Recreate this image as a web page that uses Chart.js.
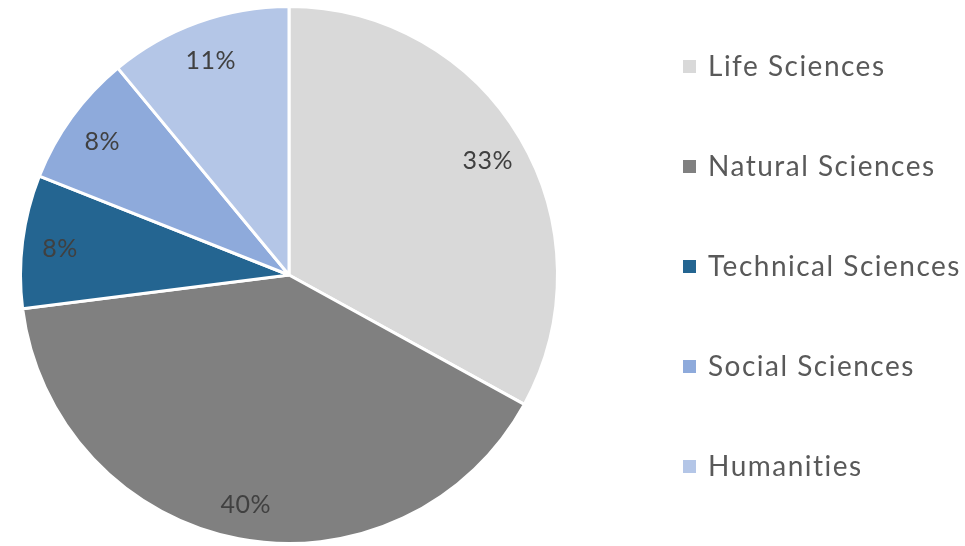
<!DOCTYPE html>
<html>
<head>
<meta charset="utf-8">
<script src="https://cdn.jsdelivr.net/npm/chart.js@4.4.1/dist/chart.umd.min.js"></script>
<style>
  html, body { margin: 0; padding: 0; background: #fff; }
  #wrap { position: relative; width: 965px; height: 546px; }
</style>
</head>
<body>
<div id="wrap"><canvas id="chart"></canvas></div>
<script>
// Share of fields (percent), clockwise from 12 o'clock
const fields = ['Life Sciences', 'Natural Sciences', 'Technical Sciences', 'Social Sciences', 'Humanities'];
const shares = [33, 40, 8, 8, 11];
const colors = ['#d9d9d9', '#808080', '#246591', '#8eaadb', '#b4c6e7'];

// percentage labels inside each slice
const sliceLabels = {
    id: 'sliceLabels',
    afterDatasetsDraw(chart) {
        const ctx = chart.ctx;
        const meta = chart.getDatasetMeta(0);
        ctx.save();
        ctx.font = '25px Lato';
        ctx.letterSpacing = '0.5px';
        ctx.fillStyle = '#404040';
        ctx.textAlign = 'center';
        ctx.textBaseline = 'middle';
        meta.data.forEach((arc, i) => {
            const p = arc.getProps(['x', 'y', 'startAngle', 'endAngle', 'outerRadius']);
            const mid = (p.startAngle + p.endAngle) / 2;
            const r = p.outerRadius * 0.86;
            ctx.fillText(shares[i] + '%', p.x + Math.cos(mid) * r, p.y + Math.sin(mid) * r + 3);
        });
        ctx.restore();
    }
};

// legend on the right with wide row spacing
const sideLegend = {
    id: 'sideLegend',
    afterDraw(chart) {
        const ctx = chart.ctx;
        ctx.save();
        ctx.font = '28px Lato';
        ctx.letterSpacing = '1.5px';
        ctx.textBaseline = 'middle';
        fields.forEach((name, i) => {
            const y = 66 + i * 100;
            ctx.fillStyle = colors[i];
            ctx.fillRect(683, y - 6, 13, 13);
            ctx.fillStyle = '#595959';
            ctx.fillText(name, 708, y + 1);
        });
        ctx.restore();
    }
};

const ctx = document.getElementById('chart');
new Chart(ctx, {
    type: 'pie',
    data: {
        labels: fields,
        datasets: [{
            data: shares,
            backgroundColor: colors,
            borderColor: '#ffffff',
            borderWidth: 3
        }]
    },
    options: {
        responsive: true,
        maintainAspectRatio: false,
        animation: false,
        layout: { padding: { left: 19, right: 406, top: 5, bottom: 1 } },
        plugins: {
            legend: { display: false },
            tooltip: { enabled: false }
        }
    },
    plugins: [sliceLabels, sideLegend]
});
</script>
</body>
</html>
